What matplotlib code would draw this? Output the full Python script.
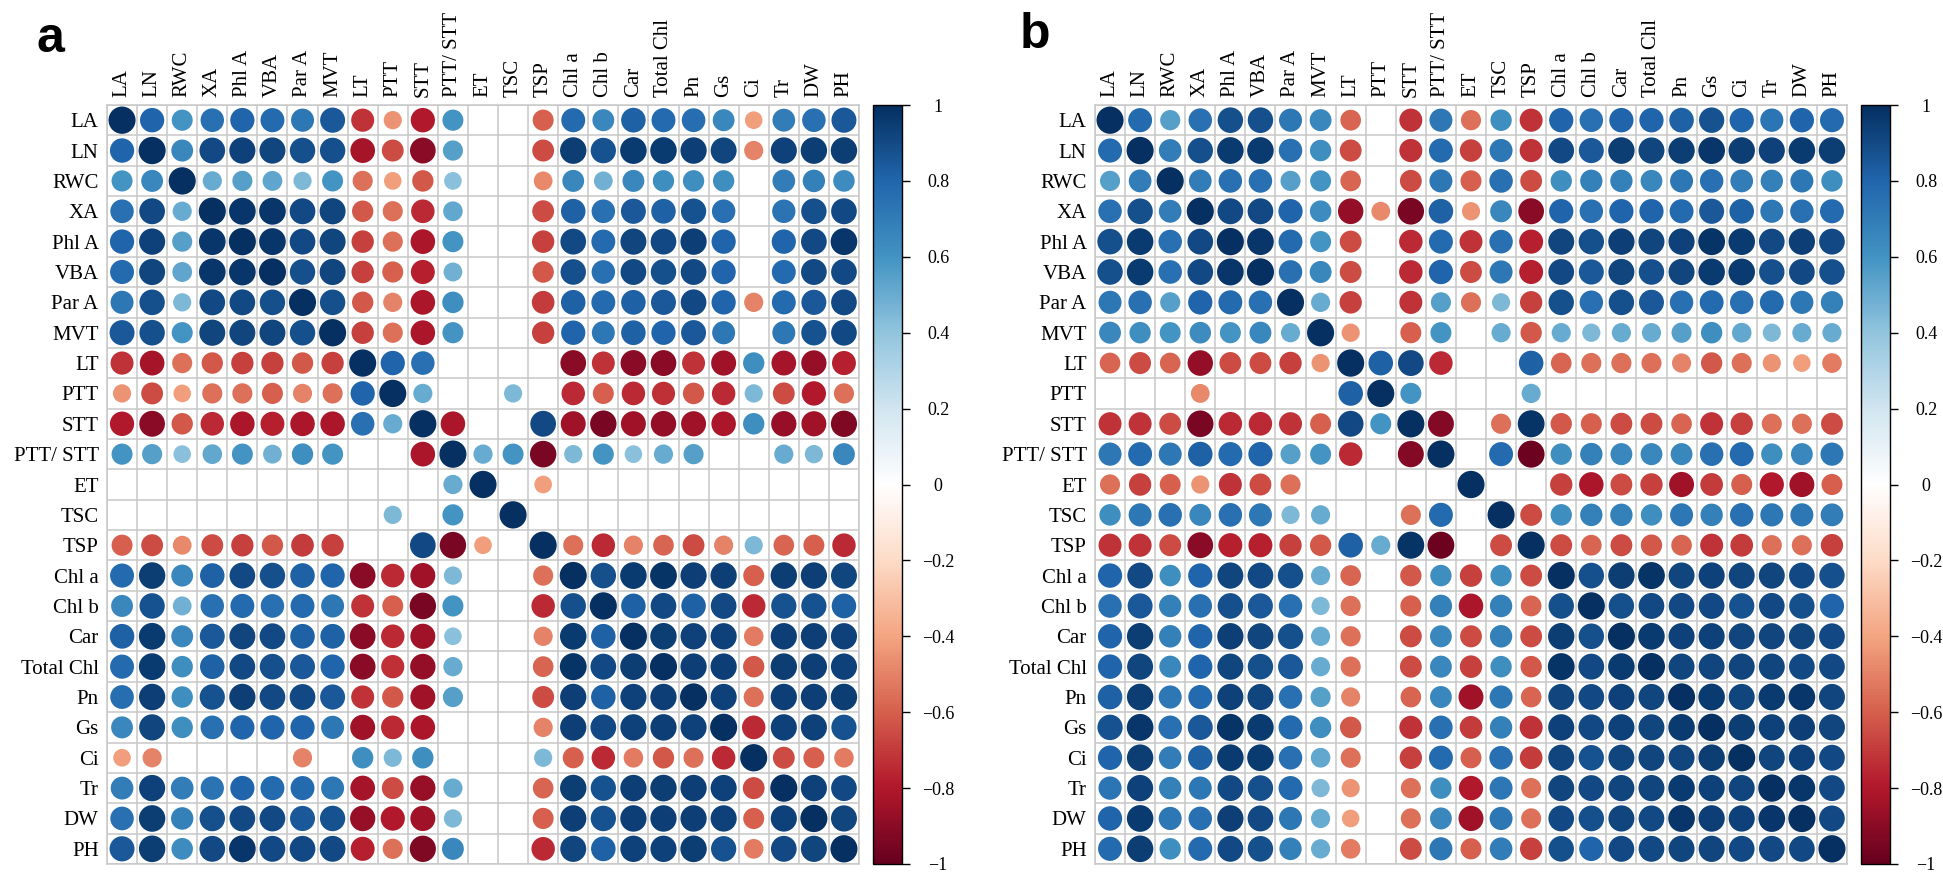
import numpy as np
import matplotlib.pyplot as plt
from matplotlib.collections import EllipseCollection
from matplotlib.colors import LinearSegmentedColormap, Normalize
from matplotlib.ticker import FuncFormatter

N = np.nan

# Trait names (rows / columns of both matrices)
traits = ['LA', 'LN', 'RWC', 'XA', 'Phl A', 'VBA', 'Par A', 'MVT', 'LT', 'PTT',
          'STT', 'PTT/ STT', 'ET', 'TSC', 'TSP', 'Chl a', 'Chl b', 'Car',
          'Total Chl', 'Pn', 'Gs', 'Ci', 'Tr', 'DW', 'PH']

# Lower triangles of the correlation matrices (row i holds columns 0..i-1),
# blank = not significant
corr_a_lower = [
    [],
    [0.80],
    [0.60, 0.65],
    [0.75, 0.90, 0.50],
    [0.80, 0.93, 0.55, 0.97],
    [0.78, 0.92, 0.53, 0.97, 0.97],
    [0.72, 0.88, 0.45, 0.90, 0.90, 0.88],
    [0.85, 0.88, 0.60, 0.92, 0.92, 0.92, 0.88],
    [-0.72, -0.83, -0.55, -0.62, -0.68, -0.68, -0.62, -0.68],
    [-0.45, -0.65, -0.42, -0.55, -0.55, -0.60, -0.50, -0.55, 0.80],
    [-0.80, -0.90, -0.62, -0.75, -0.82, -0.78, -0.82, -0.82, 0.75, 0.50],
    [0.60, 0.55, 0.42, 0.52, 0.60, 0.48, 0.62, 0.60, N, N, -0.82],
    [N, N, N, N, N, N, N, N, N, N, N, 0.50],
    [N, N, N, N, N, N, N, N, N, 0.45, N, 0.60, N],
    [-0.60, -0.65, -0.48, -0.65, -0.68, -0.62, -0.70, -0.68, N, N, 0.90, -0.95, -0.42, N],
    [0.78, 0.95, 0.65, 0.82, 0.90, 0.88, 0.82, 0.80, -0.90, -0.75, -0.85, 0.45, N, N, -0.55],
    [0.65, 0.87, 0.48, 0.75, 0.78, 0.75, 0.78, 0.72, -0.72, -0.60, -0.95, 0.60, N, N, -0.75, 0.88],
    [0.82, 0.96, 0.65, 0.85, 0.92, 0.90, 0.82, 0.82, -0.90, -0.75, -0.85, 0.42, N, N, -0.50, 0.96, 0.82],
    [0.78, 0.96, 0.62, 0.82, 0.90, 0.88, 0.85, 0.80, -0.90, -0.73, -0.88, 0.50, N, N, -0.58, 0.98, 0.90, 0.95],
    [0.76, 0.94, 0.62, 0.87, 0.94, 0.90, 0.90, 0.85, -0.72, -0.62, -0.85, 0.55, N, N, -0.65, 0.94, 0.82, 0.93, 0.94],
    [0.65, 0.92, 0.62, 0.75, 0.80, 0.80, 0.80, 0.72, -0.85, -0.75, -0.82, N, N, N, -0.50, 0.94, 0.90, 0.93, 0.94, 0.93],
    [-0.42, -0.50, N, N, N, N, -0.50, N, 0.62, 0.45, 0.62, N, N, N, 0.45, -0.60, -0.75, -0.52, -0.62, -0.55, -0.75],
    [0.70, 0.93, 0.70, 0.74, 0.80, 0.78, 0.78, 0.72, -0.83, -0.65, -0.87, 0.50, N, N, -0.58, 0.95, 0.87, 0.94, 0.95, 0.94, 0.93, -0.65],
    [0.75, 0.95, 0.68, 0.88, 0.90, 0.90, 0.85, 0.87, -0.87, -0.80, -0.85, 0.45, N, N, -0.60, 0.94, 0.87, 0.94, 0.94, 0.94, 0.93, -0.60, 0.93],
    [0.85, 0.95, 0.63, 0.90, 0.97, 0.90, 0.90, 0.90, -0.78, -0.55, -0.93, 0.65, N, N, -0.75, 0.92, 0.82, 0.93, 0.93, 0.95, 0.87, -0.52, 0.90, 0.92],
]

corr_b_lower = [
    [],
    [0.78],
    [0.55, 0.70],
    [0.75, 0.88, 0.70],
    [0.88, 0.96, 0.75, 0.90],
    [0.88, 0.96, 0.75, 0.90, 0.97],
    [0.72, 0.75, 0.55, 0.80, 0.78, 0.75],
    [0.65, 0.62, 0.60, 0.63, 0.60, 0.65, 0.50],
    [-0.58, -0.65, -0.58, -0.88, -0.65, -0.65, -0.68, -0.45],
    [N, N, N, -0.48, N, N, N, N, 0.82],
    [-0.72, -0.72, -0.65, -0.95, -0.75, -0.75, -0.72, -0.60, 0.90, 0.60],
    [0.72, 0.78, 0.72, 0.82, 0.78, 0.80, 0.55, 0.60, -0.75, N, -0.92],
    [-0.55, -0.68, -0.60, -0.45, -0.72, -0.65, -0.55, N, N, N, N, N],
    [0.62, 0.72, 0.75, 0.65, 0.75, 0.72, 0.45, 0.50, N, N, -0.55, 0.78, N],
    [-0.72, -0.72, -0.65, -0.90, -0.78, -0.78, -0.68, -0.62, 0.82, 0.50, 0.98, -0.98, N, -0.65],
    [0.80, 0.90, 0.62, 0.80, 0.92, 0.90, 0.88, 0.50, -0.58, N, -0.62, 0.62, -0.68, 0.62, -0.65],
    [0.75, 0.85, 0.68, 0.75, 0.88, 0.85, 0.75, 0.45, -0.55, N, -0.60, 0.68, -0.82, 0.68, -0.58, 0.88],
    [0.80, 0.95, 0.68, 0.80, 0.94, 0.92, 0.88, 0.50, -0.55, N, -0.65, 0.65, -0.65, 0.68, -0.65, 0.95, 0.88],
    [0.80, 0.92, 0.65, 0.80, 0.92, 0.88, 0.85, 0.50, -0.55, N, -0.65, 0.65, -0.68, 0.62, -0.62, 0.98, 0.90, 0.96],
    [0.82, 0.95, 0.72, 0.78, 0.93, 0.92, 0.75, 0.55, -0.50, N, -0.58, 0.65, -0.85, 0.72, -0.58, 0.92, 0.90, 0.93, 0.92],
    [0.87, 0.97, 0.75, 0.85, 0.98, 0.96, 0.78, 0.62, -0.62, N, -0.72, 0.75, -0.70, 0.68, -0.72, 0.93, 0.90, 0.93, 0.92, 0.96],
    [0.80, 0.95, 0.70, 0.82, 0.96, 0.96, 0.75, 0.52, -0.55, N, -0.68, 0.78, -0.60, 0.75, -0.70, 0.92, 0.87, 0.92, 0.92, 0.92, 0.95],
    [0.73, 0.93, 0.68, 0.72, 0.90, 0.88, 0.78, 0.45, -0.45, N, -0.55, 0.62, -0.80, 0.72, -0.55, 0.92, 0.90, 0.92, 0.92, 0.96, 0.93, 0.92],
    [0.80, 0.96, 0.72, 0.75, 0.94, 0.90, 0.72, 0.50, -0.42, N, -0.55, 0.65, -0.85, 0.72, -0.55, 0.90, 0.88, 0.92, 0.90, 0.97, 0.94, 0.93, 0.97],
    [0.78, 0.95, 0.62, 0.78, 0.90, 0.88, 0.68, 0.50, -0.52, N, -0.65, 0.72, -0.60, 0.70, -0.68, 0.88, 0.80, 0.90, 0.90, 0.92, 0.92, 0.90, 0.90, 0.90],
]


def full_matrix(lower):
    n = len(lower)
    m = np.eye(n)
    for i, row in enumerate(lower):
        for j, v in enumerate(row):
            m[i, j] = v
            m[j, i] = v
    return m


# corrplot-like RdBu palette with a pure white centre
cmap = LinearSegmentedColormap.from_list('corr_rdbu', [
    '#67001F', '#B2182B', '#D6604D', '#F4A582', '#FDDBC7', '#FFFFFF',
    '#D1E5F0', '#92C5DE', '#4393C3', '#2166AC', '#053061'])
norm = Normalize(-1, 1)

plt.rcParams['font.family'] = ['Liberation Serif', 'DejaVu Serif']

W, H = 1943, 882
fig = plt.figure(figsize=(W / 100, H / 100), dpi=100)


def corr_panel(mat, x0, letter, letter_x, letter_y):
    n = len(traits)
    ax = fig.add_axes([x0 / W, (H - 864) / H, 752 / W, (864 - 105) / H])
    rows, cols = np.where(~np.isnan(mat))
    vals = mat[rows, cols]
    d = 0.9 * np.sqrt(np.abs(vals))
    ec = EllipseCollection(d, d, np.zeros_like(d), units='xy',
                           offsets=np.column_stack([cols + 0.5, rows + 0.5]),
                           offset_transform=ax.transData,
                           cmap=cmap, norm=norm, edgecolors='none')
    ec.set_array(vals)
    ax.add_collection(ec)
    ax.set_xlim(0, n)
    ax.set_ylim(n, 0)

    ax.set_xticks(np.arange(n) + 0.5)
    ax.set_xticklabels(traits, rotation=90, fontsize=15)
    ax.set_yticks(np.arange(n) + 0.5)
    ax.set_yticklabels(traits, fontsize=15)
    ax.xaxis.tick_top()
    ax.tick_params(length=0, pad=6)
    ax.set_xticks(np.arange(n + 1), minor=True)
    ax.set_yticks(np.arange(n + 1), minor=True)
    ax.tick_params(which='minor', length=0)
    ax.grid(which='minor', color='#c8c8c8', linewidth=1.1)
    ax.grid(which='major', visible=False)
    ax.set_axisbelow(True)
    for s in ax.spines.values():
        s.set_color('#c8c8c8')
        s.set_linewidth(1.1)

    cax = fig.add_axes([(x0 + 766) / W, (H - 864) / H, 29 / W, (864 - 105) / H])
    cb = fig.colorbar(ec, cax=cax, ticks=np.linspace(-1, 1, 11))
    cb.outline.set_linewidth(1.0)
    cb.ax.yaxis.set_major_formatter(
        FuncFormatter(lambda v, p: f"{round(v, 1):g}".replace('-', '\u2212')))
    cb.ax.tick_params(length=6, width=1, labelsize=13, pad=20)
    for lab in cb.ax.get_yticklabels():
        lab.set_ha('center')

    fig.text(letter_x / W, 1 - letter_y / H, letter, fontsize=36,
             fontweight='bold', family=['Liberation Sans Narrow', 'Liberation Sans'],
             va='baseline', ha='left')


corr_panel(full_matrix(corr_a_lower), 107, 'a', 36, 52)
corr_panel(full_matrix(corr_b_lower), 1095, 'b', 1020, 48)

plt.savefig('out.png', dpi=100)
